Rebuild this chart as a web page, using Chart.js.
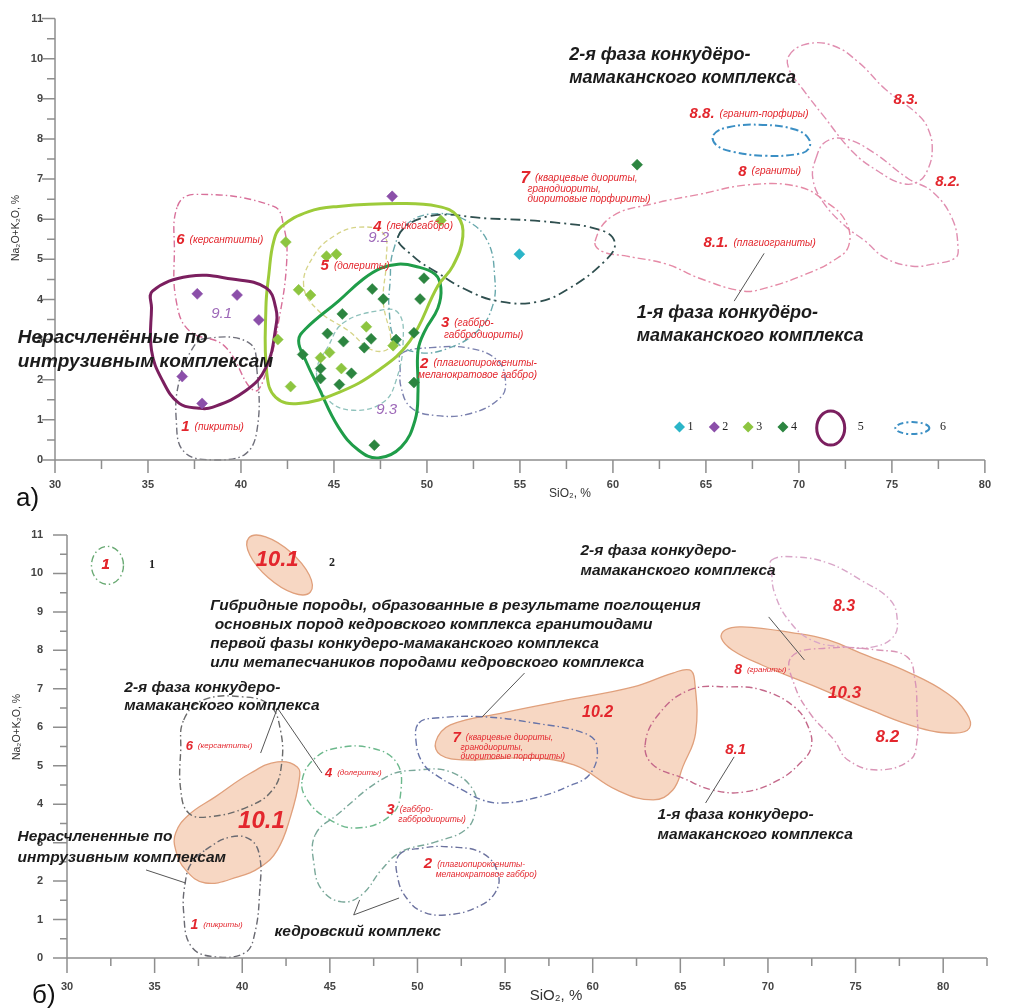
<!DOCTYPE html>
<html>
<head>
<meta charset="utf-8">
<script src="https://cdn.jsdelivr.net/npm/chart.js@4.4.1/dist/chart.umd.min.js"></script>
<style>
  body { margin: 0; background: #fff; }
  canvas { position: absolute; left: 0; }
  #chartA { top: 0; }
  #chartB { top: 500px; }
</style>
</head>
<body>
<canvas id="chartA" width="1009" height="520"></canvas>
<canvas id="chartB" width="1009" height="508"></canvas>
<script>
// ---------- panel a: analyses (SiO2, Na2O+K2O) ----------
const ptsTeal = [[54.97, 5.13]];
const ptsPurple = [[37.65, 4.14], [39.79, 4.11], [40.96, 3.49], [36.84, 2.08], [37.91, 1.41], [48.13, 6.57]];
const ptsLightGreen = [[42.41, 5.43], [43.10, 4.24], [43.74, 4.11], [44.60, 5.08], [45.13, 5.13], [50.75, 5.97],
  [41.98, 3.0], [42.67, 1.83], [44.28, 2.55], [44.76, 2.68], [45.40, 2.28], [46.74, 3.32], [48.18, 2.85]];
const ptsDarkGreen = [[47.06, 4.26], [47.65, 4.01], [45.45, 3.64], [45.51, 2.95], [47.0, 3.02], [46.63, 2.80],
  [48.34, 3.0], [49.30, 3.17], [45.94, 2.16], [45.29, 1.88], [49.30, 1.93], [49.63, 4.01], [49.84, 4.53],
  [44.65, 3.15], [43.32, 2.63], [44.28, 2.28], [44.28, 2.03], [47.17, 0.37], [61.3, 7.36]];

// ---------- panel a: fields ----------
const fieldA1 = [[38.02, 3.02], [40.43, 2.92], [40.86, 2.23], [40.86, 0.74], [40.16, 0.12], [38.56, 0.0], [36.95, 0.2], [36.52, 1.0], [36.68, 1.98], [37.33, 2.73]];
const fieldA6 = [[36.58, 6.32], [37.49, 6.62], [41.76, 6.32], [42.30, 5.82], [42.46, 4.96], [42.03, 3.47], [41.39, 2.23], [40.70, 1.73], [39.09, 2.85], [37.22, 3.22], [36.52, 3.96], [36.42, 5.20]];
const fieldA91 = [[35.24, 4.21], [37.22, 4.58], [39.52, 4.51], [41.34, 4.29], [41.87, 3.79], [41.87, 3.30], [41.34, 2.30], [40.27, 1.73], [38.45, 1.31], [37.75, 1.29], [36.68, 1.41], [35.78, 1.98], [35.19, 2.73], [35.19, 3.79]];
const fieldA92 = [[42.19, 5.82], [43.64, 6.19], [45.24, 6.32], [48.45, 6.39], [50.59, 6.32], [51.66, 6.07], [51.93, 5.57], [51.39, 4.83], [50.59, 4.34], [49.09, 2.97], [47.38, 2.23], [45.24, 1.68], [43.10, 1.41], [41.87, 1.56], [41.39, 2.16], [41.34, 3.79], [41.50, 4.63], [41.76, 5.45]];
const fieldA93 = [[47.54, 4.78], [48.45, 4.88], [49.36, 4.83], [50.43, 4.63], [50.75, 4.29], [50.59, 3.79], [49.89, 3.22], [49.52, 2.73], [49.52, 1.73], [49.36, 0.99], [48.61, 0.32], [47.38, 0.05], [46.31, 0.25], [45.24, 0.82], [44.17, 1.81], [43.48, 2.48], [43.10, 2.97], [43.48, 3.27], [45.24, 3.96], [46.58, 4.51]];
const fieldA7 = [[48.45, 5.57], [50.05, 6.07], [53.26, 6.02], [56.84, 5.92], [59.52, 5.70], [60.11, 5.38], [59.57, 4.96], [57.70, 4.29], [55.94, 3.94], [53.80, 3.96], [52.03, 4.26], [50.59, 4.66], [49.25, 5.08]];
const fieldA3 = [[48.18, 5.20], [48.98, 5.90], [50.59, 6.14], [52.19, 5.95], [53.26, 5.45], [53.64, 4.58], [53.53, 3.84], [52.73, 3.22], [51.12, 2.78], [49.52, 2.68], [48.34, 2.97], [47.97, 3.72], [48.02, 4.46]];
const fieldA4 = [[44.06, 2.18], [44.71, 2.85], [45.51, 3.42], [47.38, 3.72], [48.45, 3.67], [48.72, 2.97], [48.34, 1.98], [47.65, 1.44], [46.04, 1.24], [44.71, 1.49]];
const fieldA5 = [[43.37, 4.34], [43.90, 5.08], [44.97, 5.57], [46.31, 5.80], [47.65, 5.65], [47.81, 4.96], [47.65, 3.96], [48.02, 2.85], [47.11, 2.73], [45.78, 3.22], [44.17, 3.72]];
const fieldA2 = [[48.61, 2.65], [50.21, 2.80], [52.35, 2.78], [53.80, 2.48], [54.22, 1.98], [53.96, 1.56], [52.35, 1.16], [50.43, 1.11], [49.14, 1.31], [48.61, 1.81], [48.56, 2.30]];
const fieldA81 = [[59.04, 5.45], [59.95, 6.07], [62.19, 6.39], [64.65, 6.62], [67.33, 6.86], [70.0, 6.81], [71.44, 6.44], [72.51, 5.95], [72.67, 5.33], [71.82, 4.96], [70.37, 4.63], [68.24, 4.29], [67.0, 4.21], [64.65, 4.53], [62.89, 4.88], [60.75, 5.08], [59.41, 5.2]];
const fieldA82 = [[70.91, 7.51], [71.44, 7.93], [72.51, 8.0], [73.96, 7.68], [75.88, 7.01], [77.17, 6.69], [78.24, 6.02], [78.56, 5.28], [78.40, 5.03], [77.17, 4.88], [76.10, 4.83], [74.65, 5.03], [73.58, 5.45], [72.51, 5.82], [71.28, 6.44], [70.75, 7.01]];
const fieldA83 = [[69.47, 10.08], [70.37, 10.36], [71.82, 10.33], [73.21, 9.91], [74.65, 9.24], [76.42, 8.60], [76.95, 8.25], [77.17, 7.76], [76.95, 7.26], [76.42, 6.94], [75.56, 6.89], [74.28, 7.19], [72.89, 7.68], [71.28, 8.60], [70.21, 9.24], [69.47, 9.74]];
const fieldA88 = [[65.40, 8.10], [66.26, 8.30], [68.07, 8.35], [69.84, 8.23], [70.53, 8.0], [70.53, 7.76], [70.0, 7.63], [68.24, 7.58], [66.47, 7.68], [65.56, 7.85]];
const leaderA = [[68.13, 5.15], [66.52, 3.96]];

// ---------- panel b: fields ----------
const fieldB101 = [[36.20, 3.25], [36.94, 3.72], [38.46, 4.19], [40.49, 4.81], [42.01, 5.10], [43.14, 4.97], [43.25, 4.63], [42.75, 3.67], [42.01, 2.81], [41.05, 2.37], [39.76, 2.11], [37.90, 1.95], [36.77, 2.29], [36.20, 2.81]];
const fieldB102 = [[51.04, 5.62], [51.88, 6.06], [54.82, 6.37], [58.54, 6.71], [62.32, 7.05], [64.57, 7.41], [65.53, 7.49], [65.81, 7.23], [65.87, 5.85], [65.14, 4.97], [64.57, 4.37], [63.45, 4.11], [61.36, 4.37], [58.93, 5.02], [56.11, 5.20], [52.73, 5.15], [51.32, 5.28]];
const fieldB103 = [[67.56, 8.53], [68.52, 8.61], [71.51, 8.45], [73.43, 8.27], [75.29, 7.93], [78.11, 7.41], [80.20, 6.89], [81.33, 6.37], [81.50, 5.98], [80.65, 5.85], [78.67, 5.98], [75.85, 6.45], [72.47, 7.10], [69.65, 7.62], [67.96, 8.01], [67.34, 8.32]];
const fieldB7 = [[50.08, 6.11], [51.04, 6.24], [53.86, 6.27], [56.68, 6.11], [59.50, 5.85], [60.23, 5.54], [59.89, 4.81], [58.54, 4.45], [56.68, 4.16], [54.82, 4.03], [53.69, 4.11], [52.56, 4.37], [51.21, 4.71], [50.30, 5.07], [49.91, 5.67]];
const fieldB81 = [[62.99, 5.54], [63.73, 6.32], [65.53, 6.97], [67.79, 7.05], [69.65, 6.97], [71.51, 6.53], [72.30, 6.01], [72.47, 5.49], [71.91, 5.10], [70.61, 4.63], [68.69, 4.32], [66.83, 4.37], [65.14, 4.68], [63.45, 5.02]];
const fieldB82 = [[71.34, 7.83], [73.43, 8.06], [76.25, 8.01], [77.94, 7.83], [78.39, 7.23], [78.51, 6.37], [78.51, 5.67], [78.11, 5.15], [76.25, 4.89], [74.56, 5.15], [73.77, 5.67], [72.47, 6.32], [71.51, 7.10]];
const fieldB83 = [[70.21, 10.35], [71.51, 10.43], [73.43, 10.27], [75.29, 9.83], [76.98, 9.31], [77.38, 8.79], [77.15, 8.35], [76.02, 8.09], [74.33, 8.09], [72.47, 8.27], [71.17, 8.79], [70.38, 9.49], [70.21, 10.01]];
const fieldB6 = [[36.66, 6.19], [37.78, 6.71], [40.04, 6.79], [41.56, 6.58], [42.18, 5.93], [42.24, 5.02], [41.73, 4.37], [40.32, 3.93], [38.07, 3.67], [36.94, 3.77], [36.49, 4.37], [36.49, 5.41]];
const fieldB1 = [[37.90, 2.81], [39.36, 3.15], [40.49, 3.07], [41.0, 2.63], [41.0, 1.77], [40.72, 0.65], [40.15, 0.13], [38.46, 0.03], [37.11, 0.29], [36.66, 1.17], [36.77, 2.03], [37.11, 2.47]];
const fieldB4 = [[43.42, 4.63], [44.16, 5.20], [45.40, 5.46], [47.37, 5.46], [48.78, 5.10], [49.06, 4.37], [48.50, 3.72], [46.53, 3.38], [44.83, 3.64], [43.71, 4.11]];
const fieldB3 = [[44.16, 3.20], [45.40, 3.72], [48.22, 4.71], [50.08, 4.89], [51.88, 4.84], [53.18, 4.37], [53.29, 3.80], [52.73, 3.33], [51.04, 3.02], [49.06, 2.76], [47.94, 2.29], [46.81, 1.64], [45.68, 1.46], [44.55, 1.77], [44.10, 2.42]];
const fieldB2 = [[48.95, 2.68], [50.30, 2.86], [51.77, 2.89], [53.69, 2.73], [54.59, 2.21], [54.42, 1.69], [53.29, 1.30], [51.60, 1.12], [50.30, 1.20], [49.46, 1.51], [48.90, 2.03]];
const leadersB = [
  [[41.05, 5.33], [42.01, 6.50], [44.55, 4.81]],
  [[56.11, 7.41], [53.69, 6.27]],
  [[70.04, 8.87], [72.08, 7.75]],
  [[34.51, 2.29], [36.77, 1.95]],
  [[46.70, 1.51], [46.36, 1.12], [48.95, 1.56]],
  [[66.44, 4.03], [68.07, 5.23]]
];

// ---------- text annotations ----------
const RED = '#e3262d';
const INK = '#1b1b1b';
const LILAC = '#9d68b8';

// [x, y, lines, fontSize, lineHeight]
const notesA = [
  [57.65, 10.08, ['2-я фаза конкудёро-', 'мамаканского комплекса'], 18, 23],
  [61.28, 3.67, ['1-я фаза конкудёро-', 'мамаканского комплекса'], 18, 23],
  [28.0, 3.05, ['Нерасчленённые по', 'интрузивным комплексам'], 19, 24]
];
const notesB = [
  [59.3, 10.59, ['2-я фаза конкудеро-', 'мамаканского комплекса'], 15.5, 20],
  [38.18, 9.15, ['Гибридные породы, образованные в результате поглощения', ' основных пород кедровского комплекса гранитоидами', 'первой фазы конкудеро-мамаканского комплекса', 'или метапесчаников породами кедровского комплекса'], 15.5, 19],
  [33.27, 7.02, ['2-я фаза конкудеро-', 'мамаканского комплекса'], 15.5, 18],
  [27.18, 3.15, ['Нерасчлененные по', 'интрузивным комплексам'], 15.5, 21],
  [41.84, 0.68, ['кедровский комплекс'], 15.5, 20],
  [63.7, 3.72, ['1-я фаза конкудеро-', 'мамаканского комплекса'], 15.5, 20]
];
// [x, y, number, numSize, description lines, descSize, lineHeight, indent]
const tagsA = [
  [36.52, 5.48, '6', 15, ['(керсантииты)'], 10, 12, 0],
  [47.11, 5.82, '4', 15, ['(лейкогаббро)'], 10, 12, 0],
  [44.28, 4.83, '5', 15, ['(долериты)'], 10, 12, 0],
  [50.75, 3.42, '3', 15, ['(габбро-', 'габбродиориты)'], 10, 12, 3],
  [49.63, 2.40, '2', 15, ['(плагиопироксениты-', 'меланократовое габбро)'], 10, 12, -2],
  [36.79, 0.82, '1', 15, ['(пикриты)'], 10, 12, 0],
  [55.03, 7.01, '7', 17, ['(кварцевые диориты,', 'гранодиориты,', 'диоритовые порфириты)'], 10, 10.5, 7],
  [64.12, 8.62, '8.8.', 15, ['(гранит-порфиры)'], 10, 12, 0],
  [66.74, 7.19, '8', 15, ['(граниты)'], 10, 12, 0],
  [64.87, 5.40, '8.1.', 15, ['(плагиограниты)'], 10, 12, 0],
  [77.33, 6.94, '8.2.', 15, [], 10, 12, 0],
  [75.08, 8.97, '8.3.', 15, [], 10, 12, 0]
];
const tagsB = [
  [36.77, 5.51, '6', 13, ['(керсантиты)'], 8, 10, 0],
  [44.72, 4.81, '4', 13, ['(долериты)'], 8, 10, 0],
  [48.22, 3.85, '3', 15, ['(габбро-', 'габбродиориты)'], 8.5, 10, 12],
  [50.36, 2.44, '2', 15, ['(плагиопироксениты-', 'меланократовое габбро)'], 8.5, 10, 12],
  [37.05, 0.86, '1', 14, ['(пикриты)'], 8, 10, 0],
  [52.0, 5.72, '7', 15, ['(кварцевые диориты,', 'гранодиориты,', 'диоритовые порфириты)'], 8.5, 9.5, 8],
  [59.39, 6.37, '10.2', 16, [], 8, 10, 0],
  [68.07, 7.49, '8', 14, ['(граниты)'], 8, 10, 0],
  [73.43, 6.89, '10.3', 17, [], 8, 10, 0],
  [76.14, 5.75, '8.2', 17, [], 8, 10, 0],
  [73.71, 9.13, '8.3', 16, [], 8, 10, 0],
  [67.56, 5.41, '8.1', 15, [], 8, 10, 0],
  [39.76, 3.54, '10.1', 24, [], 8, 10, 0],
  [31.97, 10.22, '1', 15, [], 8, 10, 0],
  [40.77, 10.35, '10.1', 22, [], 8, 10, 0]
];
const fieldNumbersA = [[38.40, 3.64, '9.1'], [46.84, 5.53, '9.2'], [47.27, 1.24, '9.3']];

// ---------- helpers ----------
const xy = pts => pts.map(([x, y]) => ({x, y}));
const DASHDOT = [7, 3, 1.5, 3];

function fieldSet(pts, color, width, dash, fillColor) {
  return {
    data: xy(pts), closed: true, borderColor: color, borderWidth: width, borderDash: dash || [],
    tension: 0.42, pointRadius: 0, spanGaps: true, clip: false,
    fill: fillColor ? 'shape' : false, backgroundColor: fillColor || 'transparent'
  };
}
function pointSet(pts, color) {
  return {
    data: xy(pts), showLine: false, pointStyle: 'rectRot', pointRadius: 5.5,
    pointBackgroundColor: color, pointBorderColor: color, pointBorderWidth: 0.5, clip: false
  };
}
function leaderSet(pts) {
  return {data: xy(pts), borderColor: '#555', borderWidth: 1, pointRadius: 0, tension: 0, fill: false, clip: false};
}

// closes the smoothed outlines into loops
const closeLoops = {
  id: 'closeLoops',
  afterDatasetsUpdate(chart) {
    chart.data.datasets.forEach((ds, i) => {
      if (!ds.closed) return;
      const line = chart.getDatasetMeta(i).dataset;
      line._loop = true;
      line._fullLoop = true;
      line._pointsUpdated = false;
      delete line._segments;
      line._path = undefined;
    });
  }
};

const sans = (style, size) => `${style} ${size}px "Liberation Sans", Arial, sans-serif`;

function decor(spec) {
  return {
    id: 'decor',
    afterDraw(chart) {
      const {ctx, scales: {x, y}} = chart;
      const X = v => x.getPixelForValue(v), Y = v => y.getPixelForValue(v);
      ctx.save();
      // axis lines and tick marks
      ctx.strokeStyle = '#8e8e8e';
      ctx.lineWidth = 1.5;
      const x0 = X(x.min), x1 = X(x.max), y0 = Y(y.min), y1 = Y(y.max);
      ctx.beginPath();
      ctx.moveTo(x0, y0); ctx.lineTo(x1, y0);
      ctx.moveTo(x0, y0); ctx.lineTo(x0, y1);
      x.ticks.forEach(t => {
        const p = X(t.value);
        const len = Math.abs(t.value % 5) < 1e-6 ? spec.tick[0] : spec.tick[1];
        ctx.moveTo(p, y0); ctx.lineTo(p, y0 + len);
      });
      y.ticks.forEach(t => {
        const p = Y(t.value);
        const len = Number.isInteger(t.value) ? spec.tick[2] : spec.tick[3];
        ctx.moveTo(x0, p); ctx.lineTo(x0 - len, p);
      });
      ctx.stroke();

      ctx.textBaseline = 'middle';
      ctx.textAlign = 'left';
      // black captions
      ctx.fillStyle = INK;
      spec.notes.forEach(([vx, vy, lines, size, lh]) => {
        ctx.font = sans('italic bold', size);
        lines.forEach((ln, i) => ctx.fillText(ln, X(vx), Y(vy) + i * lh));
      });
      // red field labels
      ctx.fillStyle = RED;
      spec.tags.forEach(([vx, vy, num, size, desc, dsize, lh, indent]) => {
        const px = X(vx), py = Y(vy);
        ctx.font = sans('italic bold', size);
        ctx.fillText(num, px, py);
        const w = ctx.measureText(num).width + 5;
        ctx.font = sans('italic', dsize);
        desc.forEach((d, i) => ctx.fillText(d, i === 0 ? px + w : px + indent, py + i * lh));
      });
      if (spec.extra) spec.extra(ctx, X, Y);
      ctx.restore();
    }
  };
}

function diamond(ctx, cx, cy, r, color) {
  ctx.fillStyle = color;
  ctx.beginPath();
  ctx.moveTo(cx, cy - r); ctx.lineTo(cx + r, cy); ctx.lineTo(cx, cy + r); ctx.lineTo(cx - r, cy);
  ctx.closePath(); ctx.fill();
}

function baseOptions(cfg) {
  return {
    responsive: false, animation: false, events: [],
    layout: {padding: cfg.padding},
    plugins: {legend: {display: false}, tooltip: {enabled: false}},
    scales: {
      x: {
        type: 'linear', min: 30, max: cfg.xMax,
        afterFit: s => { s.height = cfg.xH; },
        grid: {display: false, drawTicks: false}, border: {display: false},
        ticks: {stepSize: 2.5, autoSkip: false, maxRotation: 0, padding: cfg.xPad, color: '#444',
          font: {family: 'Liberation Sans', size: 11, weight: 'bold'},
          callback: v => (Math.abs(v % 5) < 1e-6 ? v : '')}
      },
      y: {
        type: 'linear', min: 0, max: 11,
        afterFit: s => { s.width = cfg.yW; },
        grid: {display: false, drawTicks: false}, border: {display: false},
        ticks: {stepSize: 0.5, autoSkip: false, padding: cfg.yPad, color: '#444',
          font: {family: 'Liberation Sans', size: 11, weight: 'bold'},
          callback: v => (Number.isInteger(v) ? v : '')}
      }
    }
  };
}

// ---------- chart a ----------
new Chart(document.getElementById('chartA'), {
  type: 'line',
  data: {
    datasets: [
      pointSet(ptsTeal, '#2bb5c8'),
      pointSet(ptsPurple, '#8b4fa9'),
      pointSet(ptsLightGreen, '#8dc540'),
      pointSet(ptsDarkGreen, '#2c8540'),
      leaderSet(leaderA),
      fieldSet(fieldA91, '#7b1f5f', 3),
      fieldSet(fieldA92, '#9dcb3a', 3),
      fieldSet(fieldA93, '#1f9d49', 3),
      fieldSet(fieldA7, '#2f4f4f', 1.8, [10, 4, 2, 4]),
      fieldSet(fieldA88, '#3b8fc4', 2, [8, 3, 2, 3]),
      fieldSet(fieldA6, '#d8709a', 1.4, DASHDOT),
      fieldSet(fieldA1, '#6f6f7a', 1.4, DASHDOT),
      fieldSet(fieldA3, '#68a8ac', 1.4, DASHDOT),
      fieldSet(fieldA4, '#8fc2bc', 1.3, [5, 3]),
      fieldSet(fieldA5, '#d6d488', 1.3, [5, 3]),
      fieldSet(fieldA2, '#7a80ae', 1.4, DASHDOT),
      fieldSet(fieldA81, '#e58aa6', 1.4, [8, 3, 2, 3]),
      fieldSet(fieldA82, '#e08eb0', 1.4, [8, 3, 2, 3]),
      fieldSet(fieldA83, '#e08eb0', 1.4, [8, 3, 2, 3])
    ]
  },
  options: baseOptions({padding: {top: 16, right: 19, bottom: 20, left: 0}, xMax: 80, xH: 40, yW: 55, xPad: 18, yPad: 12}),
  plugins: [closeLoops, decor({
    tick: [13, 9, 13, 8],
    notes: notesA,
    tags: tagsA,
    extra(ctx, X, Y) {
      ctx.fillStyle = LILAC;
      ctx.font = sans('italic', 15);
      fieldNumbersA.forEach(([vx, vy, t]) => ctx.fillText(t, X(vx), Y(vy)));
      // legend
      const ly = Y(0.82);
      const marks = [[63.58, '#2bb5c8', '1'], [65.45, '#8b4fa9', '2'], [67.27, '#8dc540', '3'], [69.14, '#2c8540', '4']];
      ctx.font = '12px "Liberation Serif", serif';
      marks.forEach(([vx, c, t]) => {
        diamond(ctx, X(vx), ly, 5.5, c);
        ctx.fillStyle = '#222';
        ctx.fillText(t, X(vx) + 8, ly);
      });
      ctx.strokeStyle = '#7b1f5f'; ctx.lineWidth = 3;
      ctx.beginPath(); ctx.ellipse(X(71.71), ly + 1, 14, 17, 0, 0, Math.PI * 2); ctx.stroke();
      ctx.fillStyle = '#222'; ctx.fillText('5', X(73.16), ly);
      ctx.strokeStyle = '#3b8fc4'; ctx.lineWidth = 2; ctx.setLineDash([6, 3, 2, 3]);
      ctx.beginPath(); ctx.ellipse(X(76.1), ly + 1, 17, 6, 0, 0, Math.PI * 2); ctx.stroke();
      ctx.setLineDash([]);
      ctx.fillText('6', X(77.59), ly);
      // axis titles and panel letter
      ctx.fillStyle = '#333';
      ctx.font = sans('', 12);
      ctx.textAlign = 'center';
      ctx.fillText('SiO₂, %', 570, 494);
      ctx.save();
      ctx.translate(16, 228); ctx.rotate(-Math.PI / 2);
      ctx.font = sans('', 10.5);
      ctx.fillText('Na₂O+K₂O, %', 0, 0);
      ctx.restore();
      ctx.textAlign = 'left';
      ctx.fillStyle = '#111';
      ctx.font = sans('', 26);
      ctx.fillText('а)', 16, 499);
    }
  })]
});

// ---------- chart b ----------
new Chart(document.getElementById('chartB'), {
  type: 'line',
  data: {
    datasets: [
      ...leadersB.map(leaderSet),
      fieldSet(fieldB7, '#6874a8', 1.4, DASHDOT),
      fieldSet(fieldB81, '#c4688a', 1.4, DASHDOT),
      fieldSet(fieldB82, '#d994b6', 1.4, DASHDOT),
      fieldSet(fieldB83, '#d9a6c8', 1.4, DASHDOT),
      fieldSet(fieldB6, '#6a6a6a', 1.4, DASHDOT),
      fieldSet(fieldB1, '#6a6a72', 1.4, DASHDOT),
      fieldSet(fieldB4, '#6cb88c', 1.4, DASHDOT),
      fieldSet(fieldB3, '#7aa89a', 1.4, DASHDOT),
      fieldSet(fieldB2, '#6c729e', 1.4, DASHDOT),
      fieldSet(fieldB101, '#e0a07c', 1.3, [], 'rgba(246, 208, 184, 0.85)'),
      fieldSet(fieldB102, '#e0a07c', 1.3, [], 'rgba(246, 208, 184, 0.85)'),
      fieldSet(fieldB103, '#e0a07c', 1.3, [], 'rgba(246, 208, 184, 0.85)')
    ]
  },
  options: baseOptions({padding: {top: 35, right: 12, bottom: 0, left: 0}, xMax: 82.5, xH: 50, yW: 67, xPad: 22, yPad: 24}),
  plugins: [closeLoops, decor({
    tick: [15, 8, 14, 7],
    notes: notesB,
    tags: tagsB,
    extra(ctx, X, Y) {
      // legend: contour and hybrid field
      ctx.strokeStyle = '#6aaa74'; ctx.lineWidth = 1.4; ctx.setLineDash(DASHDOT);
      ctx.beginPath(); ctx.ellipse(X(32.31), Y(10.21), 16, 19, 0, 0, Math.PI * 2); ctx.stroke();
      ctx.setLineDash([]);
      ctx.fillStyle = 'rgba(246, 208, 184, 0.85)'; ctx.strokeStyle = '#e0a07c'; ctx.lineWidth = 1.3;
      ctx.beginPath(); ctx.ellipse(X(42.13), Y(10.22), 41, 17, 0.72, 0, Math.PI * 2); ctx.fill(); ctx.stroke();
      ctx.fillStyle = RED; ctx.font = sans('italic bold', 15); ctx.fillText('1', X(31.97), Y(10.22));
      ctx.font = sans('italic bold', 22); ctx.fillText('10.1', X(40.77), Y(10.35));
      ctx.fillStyle = '#222'; ctx.font = 'bold 12px "Liberation Serif", serif';
      ctx.fillText('1', X(34.68), Y(10.22));
      ctx.fillText('2', X(44.95), Y(10.27));
      // axis titles and panel letter
      ctx.fillStyle = '#333';
      ctx.textAlign = 'center';
      ctx.font = sans('', 15);
      ctx.fillText('SiO₂, %', 556, 496);
      ctx.save();
      ctx.translate(17, 227); ctx.rotate(-Math.PI / 2);
      ctx.font = sans('', 10.5);
      ctx.fillText('Na₂O+K₂O, %', 0, 0);
      ctx.restore();
      ctx.textAlign = 'left';
      ctx.fillStyle = '#111';
      ctx.font = sans('', 26);
      ctx.fillText('б)', 32, 496);
    }
  })]
});
</script>
</body>
</html>
